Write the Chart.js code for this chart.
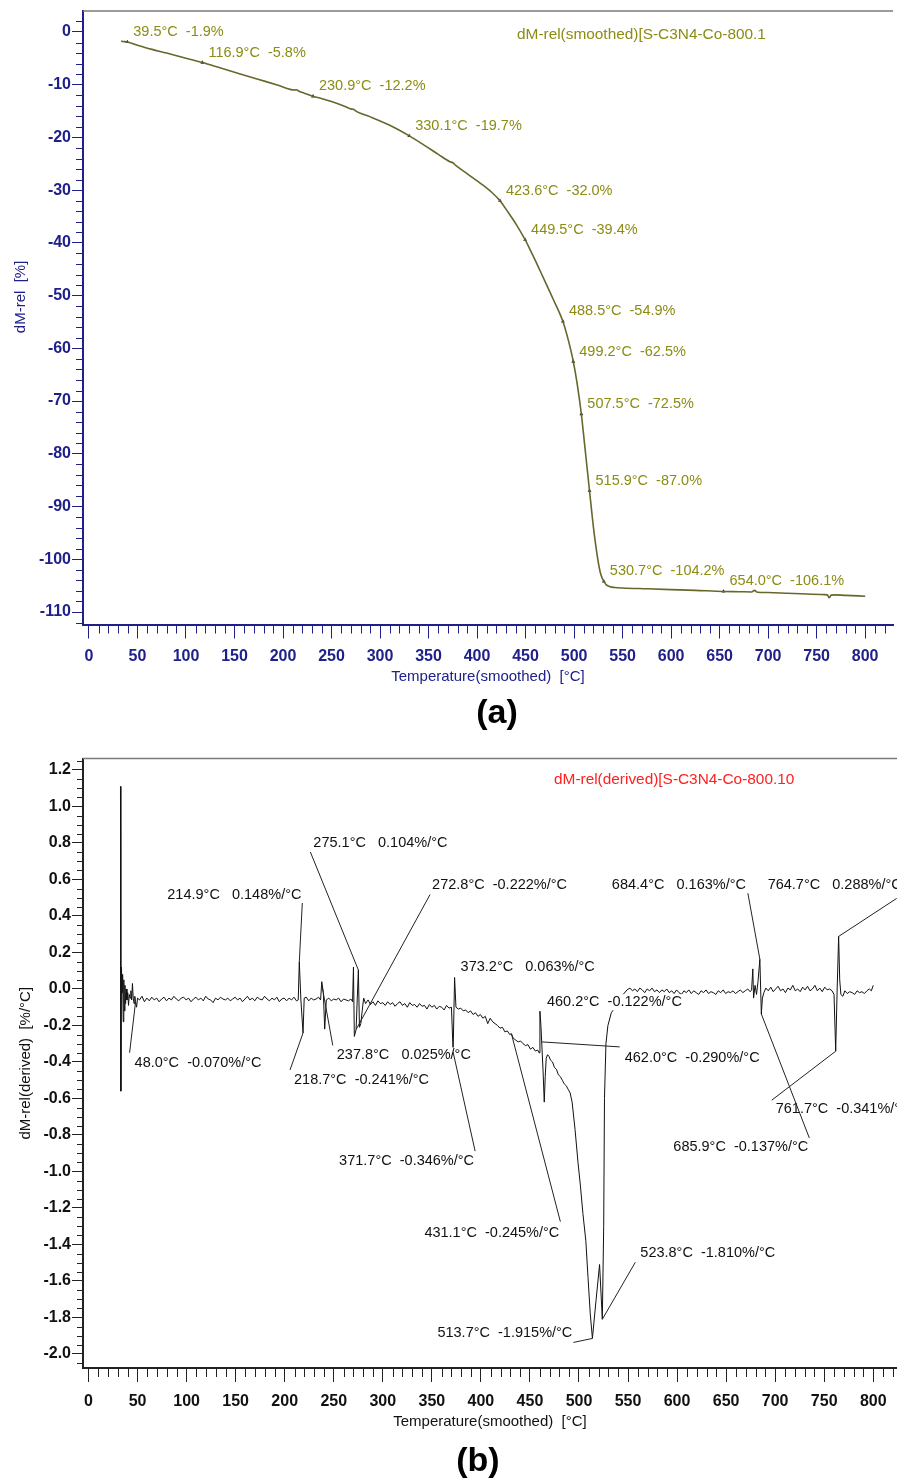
<!DOCTYPE html>
<html>
<head>
<meta charset="utf-8">
<script src="https://cdn.jsdelivr.net/npm/chart.js@4.4.1/dist/chart.umd.min.js"></script>
<style>
  body { margin: 0; background: #fff; }
  #page { position: relative; width: 897px; height: 1478px; overflow: hidden; background: #fff; }
  canvas { position: absolute; left: 0; }
  .tag { position: absolute; width: 200px; height: 40px; line-height: 40px; text-align: center;
         font: bold 34px Arial, "Liberation Sans", sans-serif; color: #000; }
</style>
</head>
<body>
<div id="page">
  <canvas id="tgChart" width="897" height="700" style="top:0"></canvas>
  <div class="tag" style="left:397px; top:692px">(a)</div>
  <canvas id="dtgChart" width="897" height="700" style="top:745px"></canvas>
  <div class="tag" style="left:378px; top:1440px">(b)</div>
</div>
<script>
const FONT = 'Arial, "Liberation Sans", sans-serif';

// (a) relative mass, smoothed
const tgTemp = [33, 35, 39.5, 50, 65, 80, 100, 116.9, 135, 155, 175, 195, 212, 214, 216, 222, 230.9, 238, 250, 262,
  270, 273, 276, 290, 310, 330.1, 345, 360, 372, 375, 378, 390, 405, 415, 423.6, 432, 440, 449.5, 455, 460,
  468, 478, 488.5, 494, 499.2, 503, 507.5, 511, 515.9, 520, 524, 527, 529, 530.7, 533, 537, 542, 550, 575, 600,
  625, 654.0, 670, 683, 686, 689, 700, 720, 740, 758, 761, 763, 765, 768, 780, 800];
const tgMass = [-1.75, -1.8, -1.9, -2.5, -3.3, -4.0, -5.0, -5.8, -6.8, -7.9, -9.0, -10.1, -11.0, -10.95, -11.2, -11.6, -12.2, -12.5, -13.2, -14.0,
  -14.6, -14.7, -15.1, -16.1, -17.7, -19.7, -21.4, -23.2, -24.6, -24.8, -25.3, -26.9, -28.9, -30.4, -32.0, -34.2, -36.4, -39.4, -41.4, -43.3,
  -46.5, -50.5, -54.9, -58.4, -62.5, -66.5, -72.5, -78.5, -87.0, -94.0, -99.5, -102.5, -103.6, -104.2, -104.8, -105.2, -105.35, -105.45, -105.6, -105.75,
  -105.9, -106.1, -106.15, -106.2, -105.9, -106.25, -106.3, -106.45, -106.6, -106.7, -106.75, -107.3, -106.8, -106.75, -106.85, -107.0];

// (a) marked steps
const tgMarkTemp = [39.5, 116.9, 230.9, 330.1, 423.6, 449.5, 488.5, 499.2, 507.5, 515.9, 530.7, 654.0];
const tgMarkMass = [-1.9, -5.8, -12.2, -19.7, -32.0, -39.4, -54.9, -62.5, -72.5, -87.0, -104.2, -106.1];

// (b) derivative
const dtgTemp = [32.6, 33.0, 33.6, 34.2, 34.8, 35.4, 36.0, 36.6, 37.2, 37.8, 38.5, 39.2, 40.0, 40.8, 41.6, 42.4, 43.2, 44.0, 44.8, 45.6,
  46.4, 47.2, 48.0, 49.0, 50.0, 52.0, 54.5, 57.0, 59.5, 62.0, 64.5, 67.0, 69.5, 72.0, 74.5, 77.0, 79.5, 82.0, 84.5, 87.0,
  89.5, 92.0, 94.5, 97.0, 99.5, 102.0, 104.5, 107.0, 109.5, 112.0, 114.5, 117.0, 119.5, 122.0, 124.5, 127.0, 129.5, 132.0, 134.5, 137.0,
  139.5, 142.0, 144.5, 147.0, 149.5, 152.0, 154.5, 157.0, 159.5, 162.0, 164.5, 167.0, 169.5, 172.0, 174.5, 177.0, 179.5, 182.0, 184.5, 187.0,
  189.5, 192.0, 194.5, 197.0, 199.5, 202.0, 204.5, 207.0, 209.5, 212.0, 213.8, 214.9, 216.5, 218.7, 219.9, 222.0, 224.5, 227.0, 229.5, 232.0,
  234.5, 236.6, 237.8, 239.4, 240.8, 242.4, 245.0, 247.5, 250.0, 252.5, 255.0, 257.5, 260.0, 262.5, 265.0, 267.5, 269.2, 270.1, 271.0, 272.8,
  274.0, 275.1, 276.2, 277.6, 279.0, 280.5, 282.5, 285.0, 287.5, 290.0, 292.5, 295.0, 297.5, 300.0, 302.5, 305.0, 307.5, 310.0, 312.5, 315.0,
  317.5, 320.0, 322.5, 325.0, 327.5, 330.0, 332.5, 335.0, 337.5, 340.0, 342.5, 345.0, 347.5, 350.0, 352.5, 355.0, 357.5, 360.0, 362.5, 365.0,
  367.5, 370.0, 371.7, 373.2, 374.6, 377.0, 379.5, 382.0, 384.5, 387.0, 389.5, 392.0, 394.5, 397.0, 399.5, 402.0, 404.5, 407.0, 409.5, 412.0,
  414.5, 417.0, 419.5, 422.0, 424.5, 427.0, 429.5, 431.1, 433.0, 435.5, 438.0, 440.5, 443.0, 445.5, 448.0, 450.5, 453.0, 455.5, 458.0, 459.3,
  460.2, 461.2, 462.0, 463.4, 464.6, 465.6, 466.6, 468.0, 469.5, 471.0, 473.0, 475.0, 477.0, 479.0, 481.0, 483.0, 485.0, 487.0, 489.0, 491.0,
  493.0, 496.0, 499.0, 501.5, 504.0, 507.0, 509.2, 511.5, 513.7, 517.5, 521.0, 523.8, 525.2, 526.0, 527.5, 529.5, 533.0, 537.0, 541.0, 545.0,
  549.0, 552.0, 554.5, 557.0, 559.5, 562.0, 564.5, 567.0, 569.5, 572.0, 574.5, 577.0, 579.5, 582.0, 584.5, 587.0, 589.5, 592.0, 594.5, 597.0,
  599.5, 602.0, 604.5, 607.0, 609.5, 612.0, 614.5, 617.0, 619.5, 622.0, 624.5, 627.0, 629.5, 632.0, 634.5, 637.0, 639.5, 642.0, 644.5, 647.0,
  649.5, 652.0, 654.5, 657.0, 659.5, 662.0, 664.5, 667.0, 669.5, 672.0, 674.5, 676.0, 677.2, 678.0, 679.5, 681.0, 682.5, 684.4, 685.2, 685.9,
  687.0, 688.5, 690.5, 693.0, 695.5, 698.0, 700.5, 703.0, 705.5, 708.0, 710.5, 713.0, 715.5, 718.0, 720.5, 723.0, 725.5, 728.0, 730.5, 733.0,
  735.5, 738.0, 740.5, 743.0, 745.5, 748.0, 750.5, 753.0, 755.5, 758.0, 760.0, 761.7, 763.2, 764.7, 765.8, 767.0, 769.0, 771.0, 773.5, 776.0,
  778.5, 781.0, 783.5, 786.0, 788.5, 791.0, 793.5, 796.0, 798.0, 800.0];
const dtgRate = [1.11, -0.56, 0.12, -0.02, 0.08, -0.18, 0.05, -0.12, 0.02, -0.08, 0.0, -0.06, -0.02, -0.09, -0.03, -0.05, -0.01, -0.06, 0.03, -0.05,
  -0.08, -0.04, -0.07, -0.1, -0.05, -0.06, -0.04, -0.07, -0.05, -0.065, -0.045, -0.06, -0.05, -0.07, -0.055, -0.045, -0.065, -0.05, -0.06, -0.04,
  -0.055, -0.065, -0.05, -0.045, -0.06, -0.05, -0.07, -0.055, -0.045, -0.06, -0.05, -0.065, -0.04, -0.055, -0.06, -0.075, -0.05, -0.06, -0.045, -0.055,
  -0.06, -0.05, -0.065, -0.055, -0.045, -0.06, -0.05, -0.07, -0.055, -0.04, -0.06, -0.05, -0.065, -0.045, -0.055, -0.06, -0.04, -0.055, -0.065, -0.05,
  -0.06, -0.045, -0.07, -0.055, -0.05, -0.065, -0.05, -0.06, -0.045, -0.065, -0.06, 0.148, -0.06, -0.241, -0.05, -0.045, -0.065, -0.05, -0.06, -0.055,
  -0.045, -0.06, 0.04, -0.02, -0.22, -0.06, -0.05, -0.065, -0.055, -0.06, -0.05, -0.07, -0.055, -0.06, -0.065, -0.055, -0.07, 0.12, -0.26, -0.222,
  -0.05, 0.104, -0.21, -0.19, -0.12, -0.05, -0.08, -0.06, -0.085, -0.07, -0.09, -0.065, -0.08, -0.075, -0.09, -0.07, -0.085, -0.075, -0.095, -0.08,
  -0.07, -0.09, -0.08, -0.1, -0.075, -0.09, -0.085, -0.1, -0.08, -0.095, -0.09, -0.11, -0.085, -0.1, -0.09, -0.11, -0.095, -0.1, -0.115, -0.09,
  -0.105, -0.1, -0.346, 0.063, -0.1, -0.11, -0.105, -0.12, -0.115, -0.13, -0.12, -0.14, -0.13, -0.15, -0.14, -0.16, -0.15, -0.19, -0.16, -0.18,
  -0.19, -0.2, -0.215, -0.21, -0.235, -0.23, -0.25, -0.245, -0.27, -0.28, -0.29, -0.285, -0.3, -0.31, -0.305, -0.33, -0.32, -0.34, -0.335, -0.35,
  -0.122, -0.2, -0.29, -0.45, -0.62, -0.48, -0.38, -0.36, -0.37, -0.39, -0.4, -0.43, -0.44, -0.47, -0.48, -0.5, -0.52, -0.53, -0.55, -0.57,
  -0.62, -0.77, -0.95, -1.08, -1.23, -1.38, -1.58, -1.78, -1.915, -1.7, -1.51, -1.81, -1.3, -0.6, -0.3, -0.2, -0.13, -0.1, -0.06, -0.03,
  -0.005, 0.005, -0.01, 0.0, -0.015, 0.005, -0.005, -0.02, 0.0, -0.01, 0.005, -0.015, -0.005, -0.02, -0.005, -0.015, 0.0, -0.02, -0.01, -0.025,
  -0.005, -0.02, -0.03, -0.01, -0.02, -0.005, -0.025, -0.01, -0.02, -0.03, -0.01, -0.02, -0.005, -0.025, -0.015, -0.02, -0.03, -0.01, -0.02, -0.005,
  -0.025, -0.015, -0.02, -0.01, -0.025, -0.015, -0.005, -0.02, -0.01, 0.0, -0.015, -0.005, 0.11, -0.05, 0.02, -0.03, 0.04, 0.163, 0.0, -0.137,
  -0.05, -0.02, 0.005, -0.01, 0.01, -0.015, 0.0, 0.015, -0.01, 0.0, -0.02, 0.005, -0.005, 0.02, -0.01, 0.0, -0.015, 0.01, -0.005, 0.015,
  -0.01, 0.0, 0.02, -0.01, 0.005, -0.015, 0.01, -0.005, 0.0, -0.01, -0.03, -0.341, 0.0, 0.288, 0.05, -0.03, -0.04, -0.01, -0.025, -0.015,
  -0.02, -0.03, -0.01, -0.02, -0.015, -0.025, -0.01, 0.0, -0.01, 0.02];

// (b) picked peaks
const dtgPeakTemp = [48.0, 214.9, 218.7, 237.8, 272.8, 275.1, 371.7, 373.2, 431.1, 460.2, 462.0, 513.7, 523.8, 684.4, 685.9, 761.7, 764.7];
const dtgPeakRate = [-0.070, 0.148, -0.241, 0.025, -0.222, 0.104, -0.346, 0.063, -0.245, -0.122, -0.290, -1.915, -1.810, 0.163, -0.137, -0.341, 0.288];
// where each callout sits, px from its peak: text (left, middle) and leader start
const dtgTextOffset = [[-1, 61], [-132, -67], [-9, 47], [15, 71], [76, -144], [-45, -127], [-114, 109], [6, -10], [-87, 199],
  [7, -9], [83, 16], [-155, -5], [38, -66], [-148, -74], [-88, 133], [-60, 58], [-71, -51]];
const dtgLeaderOffset = [[-6, 51], [3, -59], [-13, 37], [11, 61], [74, -135], [-48, -118], [22, 99], null, [49, 188],
  null, [78, 5], [-19, 4], [33, -57], [-12, -66], [48, 124], [-64, 49], [58, -38]];

// short ticks between the labelled ones
const minorTicks = {
  id: 'minorTicks',
  afterDraw(chart) {
    const o = chart.options.minor;
    const ctx = chart.ctx;
    ctx.save();
    ctx.strokeStyle = o.color;
    ctx.lineWidth = 1;
    ['x', 'y'].forEach(id => {
      const s = chart.scales[id];
      const m = o[id];
      for (let i = Math.ceil(s.min / m.step); i * m.step <= s.max; i++) {
        const v = i * m.step;
        const r = v / m.major;
        if (Math.abs(r - Math.round(r)) < 1e-6) continue;
        const p = Math.round(s.getPixelForValue(v)) + 0.5;
        ctx.beginPath();
        if (id === 'x') { ctx.moveTo(p, s.top); ctx.lineTo(p, s.top + m.len); }
        else { ctx.moveTo(s.right - m.len, p); ctx.lineTo(s.right, p); }
        ctx.stroke();
      }
    });
    // frame line along the top
    const a = chart.chartArea;
    ctx.strokeStyle = '#7a7a7a';
    ctx.lineWidth = 1.5;
    ctx.beginPath();
    ctx.moveTo(a.left, a.top);
    ctx.lineTo(a.right, a.top);
    ctx.stroke();
    ctx.restore();
  }
};

function axes(o) {
  return {
    x: {
      type: 'linear', min: o.xMin, max: o.xMax,
      afterFit: s => { s.height = o.xHeight; },
      border: { display: true, color: o.axisColor, width: 2 },
      grid: { drawOnChartArea: false, tickLength: 14, tickColor: o.axisColor },
      ticks: { stepSize: 50, includeBounds: false, autoSkip: false, maxRotation: 0, padding: o.xTickPad,
               color: o.tickColor, font: { family: FONT, size: 16, weight: 'bold' } },
      title: { display: true, text: 'Temperature(smoothed)  [°C]', color: o.tickColor,
               font: { family: FONT, size: 15 }, padding: { top: 0, bottom: o.xTitlePad } }
    },
    y: {
      type: 'linear', min: o.yMin, max: o.yMax,
      afterFit: s => { s.width = 83; },
      border: { display: true, color: o.axisColor, width: 2 },
      grid: { drawOnChartArea: false, tickLength: 11, tickColor: o.axisColor },
      ticks: { stepSize: o.yStep, includeBounds: false, padding: 1, color: o.tickColor,
               font: { family: FONT, size: 16, weight: 'bold' }, callback: o.yFormat },
      title: { display: true, text: o.yTitle, color: o.tickColor,
               font: { family: FONT, size: 15 }, padding: { top: o.yTitlePad, bottom: 0 } }
    }
  };
}

// ---- (a)
new Chart(document.getElementById('tgChart'), {
  type: 'line',
  data: {
    datasets: [{
      data: tgTemp.map((t, i) => ({ x: t, y: tgMass[i] })),
      borderColor: '#67672b', borderWidth: 1.6, pointRadius: 0, cubicInterpolationMode: 'monotone'
    }, {
      data: tgMarkTemp.map((t, i) => ({ x: t, y: tgMarkMass[i] })),
      showLine: false, pointStyle: 'triangle', pointRadius: 2.2,
      backgroundColor: '#222', borderColor: '#222', borderWidth: 0
    }]
  },
  options: {
    responsive: false, animation: false, devicePixelRatio: 1,
    layout: { padding: { top: 11, left: 0, right: 0, bottom: 0 } },
    plugins: { legend: { display: false }, tooltip: { enabled: false } },
    minor: { color: '#20208a', x: { step: 10, major: 50, len: 9 }, y: { step: 2, major: 10, len: 7 } },
    scales: axes({
      xMin: -6.15, xMax: 828.7, xHeight: 75.5, xTitlePad: 14, xTickPad: 8,
      yMin: -112.37, yMax: 3.98, yStep: 10, yFormat: v => String(v),
      yTitle: '          dM-rel  [%]', yTitlePad: 12,
      axisColor: '#20208a', tickColor: '#20208a'
    })
  },
  plugins: [minorTicks, {
    id: 'tgLabels',
    afterDatasetsDraw(chart) {
      const ctx = chart.ctx, sx = chart.scales.x, sy = chart.scales.y;
      ctx.save();
      ctx.font = '14.5px ' + FONT;
      ctx.fillStyle = '#8c8c14';
      ctx.textBaseline = 'middle';
      tgMarkTemp.forEach((t, i) => {
        const px = sx.getPixelForValue(t), py = sy.getPixelForValue(tgMarkMass[i]);
        ctx.fillText(t.toFixed(1) + '°C  ' + tgMarkMass[i].toFixed(1) + '%', px + 6, py - 10);
      });
      ctx.font = '15.4px ' + FONT;
      ctx.fillText('dM-rel(smoothed)[S-C3N4-Co-800.1', 517, 35);
      ctx.restore();
    }
  }]
});

// ---- (b)
new Chart(document.getElementById('dtgChart'), {
  type: 'line',
  data: {
    datasets: [{
      data: dtgTemp.map((t, i) => ({ x: t, y: dtgRate[i] })),
      borderColor: '#111', borderWidth: 1, pointRadius: 0, tension: 0
    }]
  },
  options: {
    responsive: false, animation: false, devicePixelRatio: 1,
    layout: { padding: { top: 13.5, left: 0, right: 0, bottom: 0 } },
    plugins: { legend: { display: false }, tooltip: { enabled: false } },
    minor: { color: '#222', x: { step: 10, major: 50, len: 9 }, y: { step: 0.05, major: 0.2, len: 6 } },
    scales: axes({
      xMin: -5.61, xMax: 824.2, xHeight: 77, xTitlePad: 14, xTickPad: 10,
      yMin: -2.077, yMax: 1.263, yStep: 0.2, yFormat: v => v.toFixed(1),
      yTitle: 'dM-rel(derived)  [%/°C]', yTitlePad: 17,
      axisColor: '#222', tickColor: '#111'
    })
  },
  plugins: [minorTicks, {
    id: 'dtgLabels',
    afterDatasetsDraw(chart) {
      const ctx = chart.ctx, sx = chart.scales.x, sy = chart.scales.y;
      ctx.save();
      ctx.font = '14.5px ' + FONT;
      ctx.textBaseline = 'middle';
      const pts = dtgPeakTemp.map((t, i) => [sx.getPixelForValue(t), sy.getPixelForValue(dtgPeakRate[i])]);
      // callout texts sit on white boxes
      dtgPeakTemp.forEach((t, i) => {
        const v = dtgPeakRate[i];
        const txt = t.toFixed(1) + '°C  ' + (v < 0 ? '' : ' ') + v.toFixed(3) + '%/°C';
        const x = pts[i][0] + dtgTextOffset[i][0], y = pts[i][1] + dtgTextOffset[i][1];
        ctx.fillStyle = '#fff';
        ctx.fillRect(x - 1, y - 8, ctx.measureText(txt).width + 2, 16);
        ctx.fillStyle = '#111';
        ctx.fillText(txt, x, y);
      });
      ctx.strokeStyle = '#222';
      ctx.lineWidth = 1;
      dtgLeaderOffset.forEach((d, i) => {
        if (!d) return;
        ctx.beginPath();
        ctx.moveTo(pts[i][0] + d[0], pts[i][1] + d[1]);
        ctx.lineTo(pts[i][0], pts[i][1]);
        ctx.stroke();
      });
      ctx.fillStyle = '#ff2020';
      ctx.font = '15.4px ' + FONT;
      ctx.fillText('dM-rel(derived)[S-C3N4-Co-800.10', 554, 35);
      ctx.restore();
    }
  }]
});
</script>
</body>
</html>
